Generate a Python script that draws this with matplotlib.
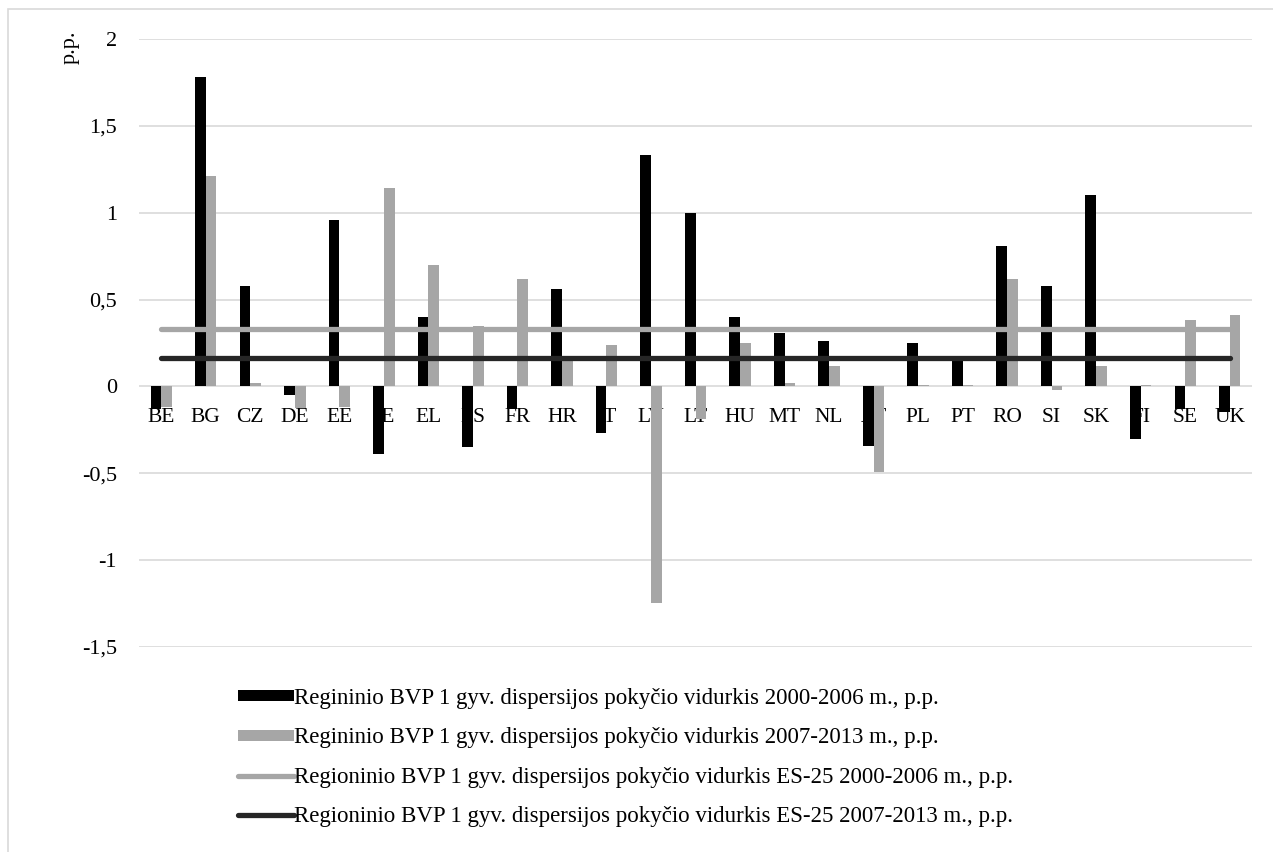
import matplotlib
matplotlib.use("Agg")
import matplotlib.pyplot as plt
import matplotlib.transforms as mtransforms
from matplotlib.patches import Patch, Rectangle
from matplotlib.lines import Line2D
import numpy as np

plt.rcParams['font.family'] = ['Liberation Serif', 'DejaVu Serif']

# Šalių kodai
salys = ["BE", "BG", "CZ", "DE", "EE", "IE", "EL", "ES", "FR", "HR", "IT", "LV", "LT",
         "HU", "MT", "NL", "AT", "PL", "PT", "RO", "SI", "SK", "FI", "SE", "UK"]

# Dispersijos pokyčio vidurkiai, p.p.
vid_2000_2006 = [-0.13, 1.78, 0.58, -0.05, 0.96, -0.39, 0.40, -0.35, -0.13, 0.56, -0.27, 1.33, 1.00,
                 0.40, 0.31, 0.26, -0.34, 0.25, 0.16, 0.81, 0.58, 1.10, -0.30, -0.13, -0.15]
vid_2007_2013 = [-0.12, 1.21, 0.02, -0.125, -0.12, 1.14, 0.70, 0.35, 0.62, 0.15, 0.24, -1.245, -0.19,
                 0.25, 0.02, 0.12, -0.49, 0.01, 0.01, 0.62, -0.02, 0.12, 0.01, 0.38, 0.41]

# ES-25 vidurkiai
es25_2000_2006 = 0.33
es25_2007_2013 = 0.165

etiketes = [
    "Regininio BVP 1 gyv. dispersijos pokyčio vidurkis 2000-2006 m., p.p.",
    "Regininio BVP 1 gyv. dispersijos pokyčio vidurkis 2007-2013 m., p.p.",
    "Regioninio BVP 1 gyv. dispersijos pokyčio vidurkis ES-25 2000-2006 m., p.p.",
    "Regioninio BVP 1 gyv. dispersijos pokyčio vidurkis ES-25 2007-2013 m., p.p.",
]

juoda = "#000000"
pilka = "#a6a6a6"
tamsi = "#262626"

fig = plt.figure(figsize=(12.73, 8.52), dpi=100)
ax = fig.add_axes([0.1092, 0.2406, 0.9835 - 0.1092, 0.9542 - 0.2406])

x = np.arange(len(salys))
w = 0.24
ax.bar(x - w / 2, vid_2000_2006, width=w, color=juoda, zorder=3)
ax.bar(x + w / 2, vid_2007_2013, width=w, color=pilka, zorder=3)

ax.plot([x[0], x[-1]], [es25_2000_2006] * 2, color=pilka, lw=3.8,
        solid_capstyle="round", zorder=4)
ax.plot([x[0], x[-1]], [es25_2007_2013] * 2, color=tamsi, lw=3.8,
        solid_capstyle="round", zorder=4)

ax.set_xlim(-0.5, len(salys) - 0.5)
ax.set_ylim(-1.5, 2)
ax.set_yticks(np.arange(-1.5, 2.01, 0.5))
ax.set_yticklabels([f"{v:g}".replace(".", ",") for v in np.arange(-1.5, 2.01, 0.5)],
                   fontsize=16)
ax.set_xticks([])
ax.tick_params(axis="y", length=0, pad=16)
ax.grid(axis="y", color="#d9d9d9", lw=1.2, zorder=0)
ax.set_axisbelow(True)
for s in ax.spines.values():
    s.set_visible(False)

# Šalių pavadinimai ties nuline ašimi
trans = mtransforms.offset_copy(ax.transData, fig=fig, y=-22, units="dots")
for i, s in enumerate(salys):
    ax.text(i, 0, s, transform=trans, ha="center", va="top", fontsize=15.5, zorder=2)

fig.text(0.055, 0.945, "p.p.", rotation=90, ha="center", va="center", fontsize=16)

handles = [
    Patch(facecolor=juoda, edgecolor="none"),
    Patch(facecolor=pilka, edgecolor="none"),
    Line2D([], [], color=pilka, lw=3.8, solid_capstyle="round"),
    Line2D([], [], color=tamsi, lw=3.8, solid_capstyle="round"),
]
fig.legend(handles, etiketes, loc="upper left", bbox_to_anchor=(238 / 1273, 1 - 688 / 852),
           frameon=False, fontsize=16.5, handlelength=2.45, handleheight=0.35,
           handletextpad=0.0, labelspacing=0.8, borderpad=0, borderaxespad=0)

# Rėmelis aplink diagramą
fig.patches.append(Rectangle((8 / 1273, -0.1), 1.2, 1 - 9 / 852 + 0.1,
                             transform=fig.transFigure, fill=False,
                             edgecolor="#d9d9d9", lw=1.2))

fig.savefig("out.png", dpi=100)
